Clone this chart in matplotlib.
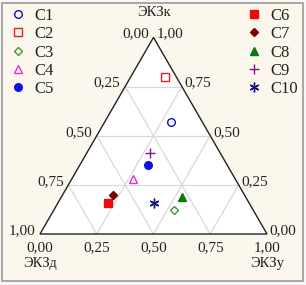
import matplotlib
matplotlib.use("Agg")
import matplotlib.pyplot as plt
import numpy as np
from matplotlib.patches import Polygon, Rectangle

plt.rcParams['font.family'] = ['Liberation Serif', 'DejaVu Serif']

# ternary data: share of ЭКЗк, ЭКЗу, ЭКЗд
names = ['C1', 'C2', 'C3', 'C4', 'C5', 'C6', 'C7', 'C8', 'C9', 'C10']
ekz_k = [0.57, 0.80, 0.12, 0.28, 0.35, 0.16, 0.20, 0.19, 0.41, 0.16]
ekz_u = [0.29, 0.15, 0.53, 0.27, 0.30, 0.22, 0.22, 0.53, 0.28, 0.42]
ekz_d = [0.14, 0.05, 0.35, 0.45, 0.35, 0.62, 0.58, 0.28, 0.31, 0.42]
ticks = [0.0, 0.25, 0.5, 0.75, 1.0]

styles = [
    dict(marker='o', mfc='none', mec='#1010c8'),
    dict(marker='s', mfc='none', mec='#e02020'),
    dict(marker='D', mfc='none', mec='#3a9a3a', ms=4.5),
    dict(marker='^', mfc='none', mec='#e030e0'),
    dict(marker='o', mfc='#0a14e6', mec='#0a14e6'),
    dict(marker='s', mfc='#ee0a0a', mec='#ee0a0a'),
    dict(marker='D', mfc='#7a0000', mec='#7a0000', ms=4.5),
    dict(marker='^', mfc='#0a780a', mec='#0a780a'),
    dict(marker='+', mfc='#8a1090', mec='#8a1090', ms=7),
    dict(marker=(6, 2, 0), mfc='#10107a', mec='#10107a', ms=7),
]

h = np.sqrt(3) / 2


def to_xy(k, u):
    k = np.asarray(k, float)
    u = np.asarray(u, float)
    return u + k / 2, k * h


fig = plt.figure(figsize=(3.06, 2.85), dpi=100)
fig.patch.set_facecolor('#f7f7f7')
fig.add_artist(Rectangle((2 / 306, 4 / 285), 301 / 306, 278 / 285,
                         transform=fig.transFigure, facecolor='#fcf7ec',
                         edgecolor='#9a9a9a', lw=1.2, zorder=-10))

ax = fig.add_axes([0, 0, 1, 1])
W = 227.0
ax.set_xlim(-40 / W, 266 / W)
ax.set_ylim((234 - 285) / W, 234 / W)
ax.axis('off')
ax.patch.set_alpha(0)

tri = np.array([[0, 0], [1, 0], [0.5, h]])
ax.add_patch(Polygon(tri, closed=True, facecolor='white', edgecolor='none', zorder=1))

# grid
for t in ticks[1:-1]:
    # constant k
    x, y = to_xy([t, t], [0, 1 - t])
    ax.plot(x, y, color='#d9d9d9', lw=0.9, zorder=2)
    # constant u
    x, y = to_xy([0, 1 - t], [t, t])
    ax.plot(x, y, color='#d9d9d9', lw=0.9, zorder=2)
    # constant d
    x, y = to_xy([0, 1 - t], [1 - t, 0])
    ax.plot(x, y, color='#d9d9d9', lw=0.9, zorder=2)

ax.add_patch(Polygon(tri, closed=True, facecolor='none', edgecolor='#222222',
                     lw=1.0, zorder=3))

fs = 11
lab = dict(fontsize=fs, color='#222222')
# bottom axis (ЭКЗу)
for t in ticks:
    x, y = to_xy(0, t)
    ax.annotate(f'{t:.2f}'.replace('.', ','), (x, y), xytext=(0, -10),
                textcoords='offset points', ha='center', va='center', **lab)
# right side (ЭКЗк)
for t in ticks:
    x, y = to_xy(t, 1 - t)
    ax.annotate(f'{t:.2f}'.replace('.', ','), (x, y), xytext=(2, 2.5),
                textcoords='offset points', ha='left', va='center', **lab)
# left side (ЭКЗд)
for t in ticks:
    x, y = to_xy(1 - t, 0)
    ax.annotate(f'{t:.2f}'.replace('.', ','), (x, y), xytext=(-3.3, 2.5),
                textcoords='offset points', ha='right', va='center', **lab)

tl = dict(fontsize=10.5, color='#222222')
ax.annotate('ЭКЗк', (0.5, h), xytext=(0, 18), textcoords='offset points',
            ha='center', va='center', **tl)
ax.annotate('ЭКЗд', (0, 0), xytext=(0, -21.5), textcoords='offset points',
            ha='center', va='center', **tl)
ax.annotate('ЭКЗу', (1, 0), xytext=(0, -21.5), textcoords='offset points',
            ha='center', va='center', **tl)

handles = []
x, y = to_xy(ekz_k, ekz_u)
for i, name in enumerate(names):
    st = dict(ms=5.5, mew=1.0)
    st.update(styles[i])
    ln, = ax.plot(x[i], y[i], ls='none', label=name, zorder=5, **st)
    handles.append(ln)

leg_kw = dict(frameon=False, fontsize=12, handlelength=1.0, handletextpad=0.45,
              labelspacing=0.14, borderaxespad=0, borderpad=0)
leg1 = ax.legend(handles=handles[:5], loc='upper left',
                 bbox_to_anchor=(10 / 306, 1 - 8 / 285), **leg_kw)
for t in leg1.get_texts():
    t.set_color('#222222')
ax.add_artist(leg1)
leg2 = ax.legend(handles=handles[5:], loc='upper left',
                 bbox_to_anchor=(246 / 306, 1 - 8 / 285), **leg_kw)
for t in leg2.get_texts():
    t.set_color('#222222')

fig.savefig('out.png', dpi=100, facecolor=fig.get_facecolor())
